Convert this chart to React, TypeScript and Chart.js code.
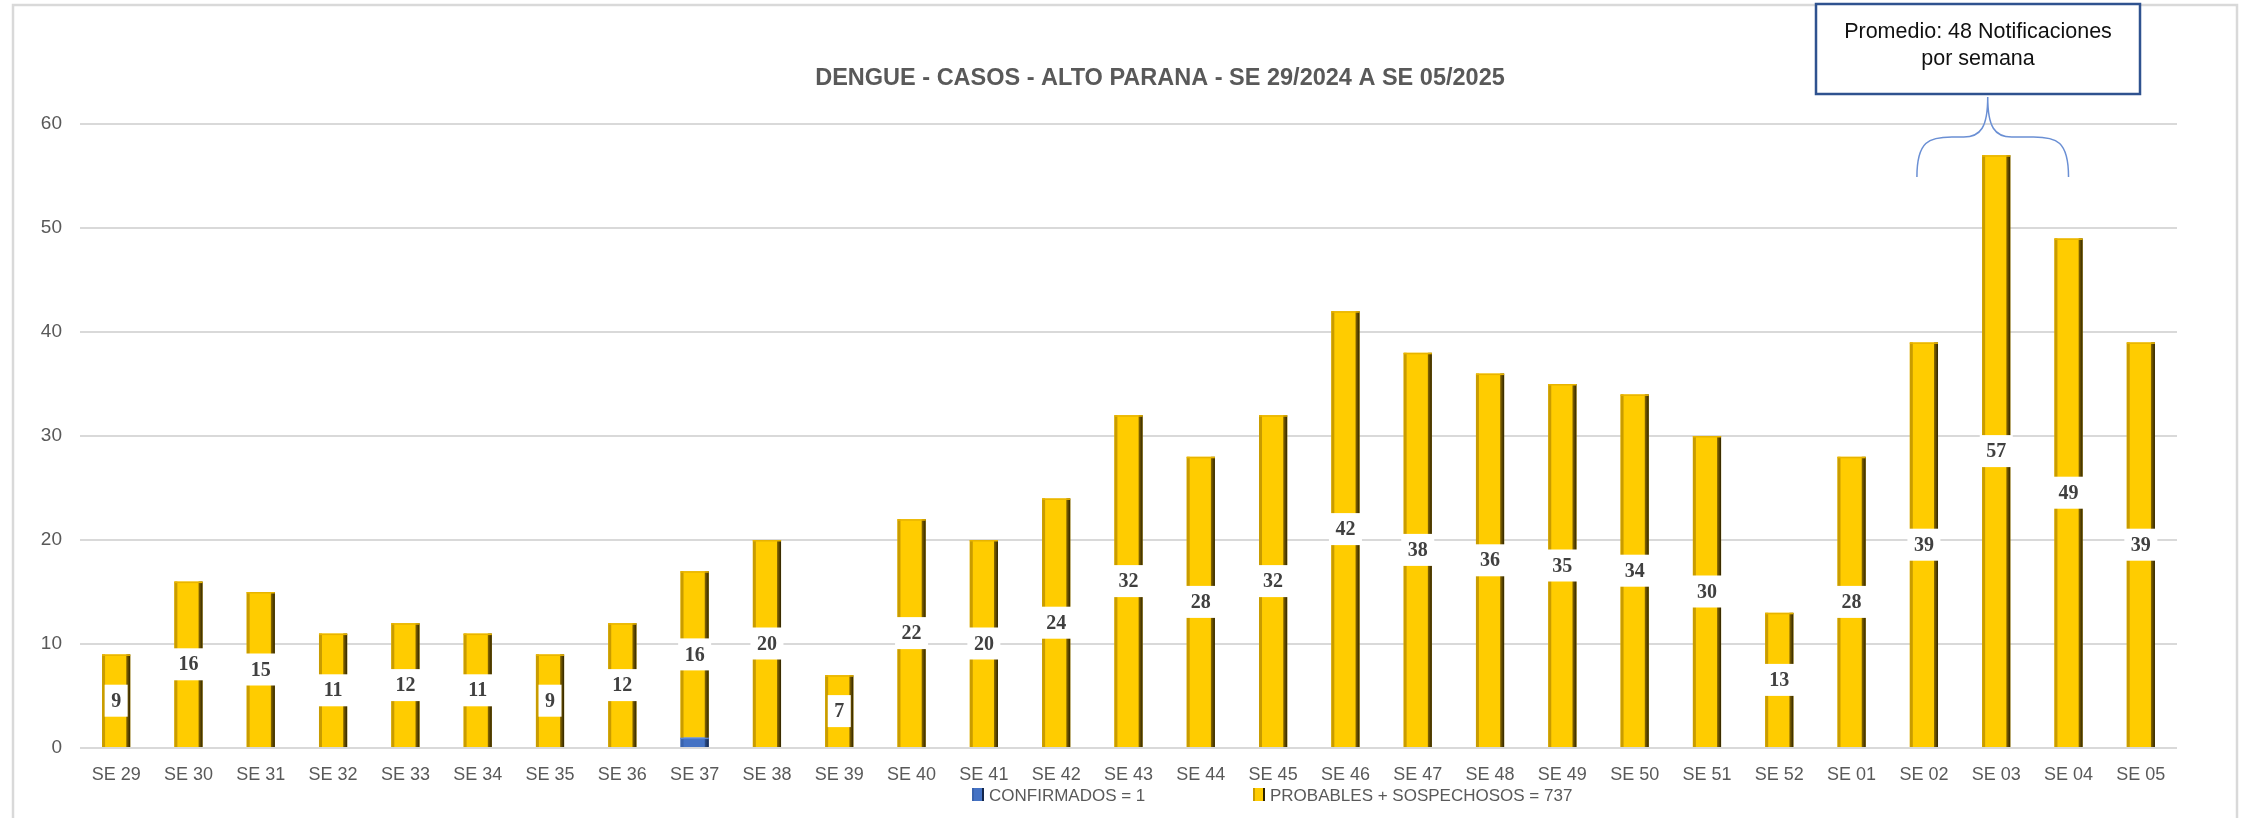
import React, { useEffect, useRef } from 'react';
import { Chart, registerables } from 'chart.js';

Chart.register(...registerables);

const categories = [
  'SE 29', 'SE 30', 'SE 31', 'SE 32', 'SE 33', 'SE 34', 'SE 35', 'SE 36', 'SE 37', 'SE 38',
  'SE 39', 'SE 40', 'SE 41', 'SE 42', 'SE 43', 'SE 44', 'SE 45', 'SE 46', 'SE 47', 'SE 48',
  'SE 49', 'SE 50', 'SE 51', 'SE 52', 'SE 01', 'SE 02', 'SE 03', 'SE 04', 'SE 05',
];
const confirmados = [0, 0, 0, 0, 0, 0, 0, 0, 1, 0, 0, 0, 0, 0, 0, 0, 0, 0, 0, 0, 0, 0, 0, 0, 0, 0, 0, 0, 0];
const probables = [9, 16, 15, 11, 12, 11, 9, 12, 16, 20, 7, 22, 20, 24, 32, 28, 32, 42, 38, 36, 35, 34, 30, 13, 28, 39, 57, 49, 39];
const seriesLabels = ['CONFIRMADOS = 1', 'PROBABLES + SOSPECHOSOS = 737'];
const titleText = 'DENGUE - CASOS - ALTO PARANA - SE 29/2024 A SE 05/2025';
const noteLines = ['Promedio: 48 Notificaciones', 'por semana'];
const noteFrom = 'SE 02';
const noteTo = 'SE 04';
const yMax = 60;
const yStep = 10;

const SANS = '"Liberation Sans", Arial, sans-serif';
const SERIF = '"Liberation Serif", "Times New Roman", serif';

const styles = [
  { fill: '#4472C4', left: '#3A64AE', right1: '#2C4E8C', right2: '#14264A', top: '#5A86D6' },
  { fill: '#FFCC00', left: '#C99C00', right1: '#8A6A00', right2: '#2E2300', top: '#E8B400' },
];

function drawBarEdges(ctx: CanvasRenderingContext2D, l: number, top: number, w: number, h: number, s: any) {
  ctx.fillStyle = s.left;
  ctx.fillRect(l, top, 3, h);
  const g = ctx.createLinearGradient(l + w - 4, 0, l + w, 0);
  g.addColorStop(0, s.right1);
  g.addColorStop(1, s.right2);
  ctx.fillStyle = g;
  ctx.fillRect(l + w - 4, top, 4, h);
  ctx.fillStyle = s.top;
  ctx.fillRect(l, top, w, 1.5);
}

const decor = {
  id: 'decor',
  beforeDraw(chart: any) {
    const ctx = chart.ctx;
    ctx.save();
    ctx.fillStyle = '#ffffff';
    ctx.fillRect(0, 0, chart.width, chart.height);
    ctx.restore();
  },
  afterDatasetsDraw(chart: any) {
    const ctx: CanvasRenderingContext2D = chart.ctx;
    ctx.save();
    chart.data.datasets.forEach((ds: any, di: number) => {
      const meta = chart.getDatasetMeta(di);
      meta.data.forEach((el: any) => {
        const p = el.getProps(['x', 'y', 'base', 'width'], true);
        const top = Math.min(p.y, p.base);
        const h = Math.abs(p.base - p.y);
        if (h < 0.5) return;
        drawBarEdges(ctx, p.x - p.width / 2, top, p.width, h, styles[di]);
      });
    });
    // value labels for the probables series
    const meta = chart.getDatasetMeta(1);
    ctx.font = `bold 20px ${SERIF}`;
    ctx.textAlign = 'center';
    ctx.textBaseline = 'middle';
    meta.data.forEach((el: any, i: number) => {
      const v = chart.data.datasets[1].data[i];
      if (!v) return;
      const p = el.getProps(['x', 'y', 'base'], true);
      const cy = (p.y + p.base) / 2;
      const txt = String(v);
      const tw = ctx.measureText(txt).width;
      const bw = tw + 13;
      const bh = 32;
      ctx.fillStyle = '#ffffff';
      ctx.fillRect(p.x - bw / 2, cy - bh / 2, bw, bh);
      ctx.fillStyle = '#404040';
      ctx.fillText(txt, p.x, cy + 1);
    });
    ctx.restore();
  },
  afterDraw(chart: any) {
    const ctx: CanvasRenderingContext2D = chart.ctx;
    const xs = chart.scales.x;
    const ys = chart.scales.y;
    ctx.save();
    // outer frame (bottom edge falls outside the picture)
    ctx.strokeStyle = '#D9D9D9';
    ctx.lineWidth = 2.5;
    ctx.strokeRect(13, 5, 2224, 820);

    // title
    ctx.font = `bold 23.5px ${SANS}`;
    ctx.fillStyle = '#595959';
    ctx.textAlign = 'center';
    ctx.textBaseline = 'alphabetic';
    ctx.fillText(titleText, 1160, 85, 700);

    // legend
    const legendBoxX = [972, 1253];
    ctx.font = `17px ${SANS}`;
    ctx.textAlign = 'left';
    seriesLabels.forEach((lab, i) => {
      const bx = legendBoxX[i];
      const s = styles[i];
      ctx.fillStyle = s.fill;
      ctx.fillRect(bx, 788, 12, 13);
      ctx.fillStyle = s.left;
      ctx.fillRect(bx, 788, 2, 13);
      ctx.fillStyle = s.right2;
      ctx.fillRect(bx + 10, 788, 2, 13);
      ctx.fillStyle = '#595959';
      ctx.fillText(lab, bx + 17, 801);
    });

    // brace over the note range
    const iFrom = categories.indexOf(noteFrom);
    const iTo = categories.indexOf(noteTo);
    const L = xs.getPixelForValue(iFrom) - 7;
    const R = xs.getPixelForValue(iTo);
    const tx = (L + R) / 2 - 5;
    const yb = ys.getPixelForValue(54.9);
    const ym = ys.getPixelForValue(58.75);
    const yt = ys.getPixelForValue(62.6);
    ctx.strokeStyle = '#6A8FD4';
    ctx.lineWidth = 1.5;
    ctx.beginPath();
    ctx.moveTo(L, yb);
    ctx.bezierCurveTo(L, ym + 4, L + 12, ym, L + 35, ym);
    ctx.lineTo(tx - 24, ym);
    ctx.bezierCurveTo(tx - 7, ym, tx, ym - 10, tx, yt);
    ctx.moveTo(R, yb);
    ctx.bezierCurveTo(R, ym + 4, R - 12, ym, R - 35, ym);
    ctx.lineTo(tx + 24, ym);
    ctx.bezierCurveTo(tx + 7, ym, tx, ym - 10, tx, yt);
    ctx.stroke();

    // note box
    ctx.fillStyle = '#ffffff';
    ctx.fillRect(1816, 4, 324, 90);
    ctx.strokeStyle = '#2F528F';
    ctx.lineWidth = 2.5;
    ctx.strokeRect(1816, 4, 324, 90);
    ctx.fillStyle = '#111111';
    ctx.font = `21.5px ${SANS}`;
    ctx.textAlign = 'center';
    ctx.fillText(noteLines[0], 1978, 37.5);
    ctx.fillText(noteLines[1], 1978, 65);
    ctx.restore();
  },
};

export default function App() {
  const ref = useRef<HTMLCanvasElement | null>(null);
  useEffect(() => {
    if (!ref.current) return;
    Chart.defaults.font.family = SANS;
    const chart = new Chart(ref.current, {
      type: 'bar',
      data: {
        labels: categories,
        datasets: [
          {
            label: seriesLabels[0],
            data: confirmados,
            backgroundColor: styles[0].fill,
            borderWidth: 0,
            barPercentage: 0.39,
            categoryPercentage: 1,
          },
          {
            label: seriesLabels[1],
            data: probables,
            backgroundColor: styles[1].fill,
            borderWidth: 0,
            barPercentage: 0.39,
            categoryPercentage: 1,
          },
        ],
      },
      options: {
        responsive: false,
        animation: false,
        devicePixelRatio: 1,
        layout: { padding: { left: 0, right: 75, top: 124, bottom: 0 } },
        plugins: {
          legend: { display: false },
          title: { display: false },
          tooltip: { enabled: false },
        },
        scales: {
          x: {
            stacked: true,
            grid: { display: false, drawTicks: false },
            border: { display: false },
            ticks: {
              color: '#595959',
              font: { size: 18, family: SANS },
              padding: 16,
              maxRotation: 0,
              autoSkip: false,
            },
            afterFit: (s: any) => {
              s.height = 70;
            },
          },
          y: {
            stacked: true,
            min: 0,
            max: yMax,
            grid: { color: '#D9D9D9', lineWidth: 2, drawTicks: false },
            border: { display: false },
            ticks: {
              stepSize: yStep,
              color: '#595959',
              font: { size: 19, family: SANS },
              padding: 18,
            },
            afterFit: (s: any) => {
              s.width = 80;
            },
          },
        },
      },
      plugins: [decor],
    });
    return () => chart.destroy();
  }, []);
  return (
    <canvas
      ref={ref}
      width={2252}
      height={818}
      style={{ position: 'absolute', left: 0, top: 0, width: 2252, height: 818 }}
    />
  );
}
